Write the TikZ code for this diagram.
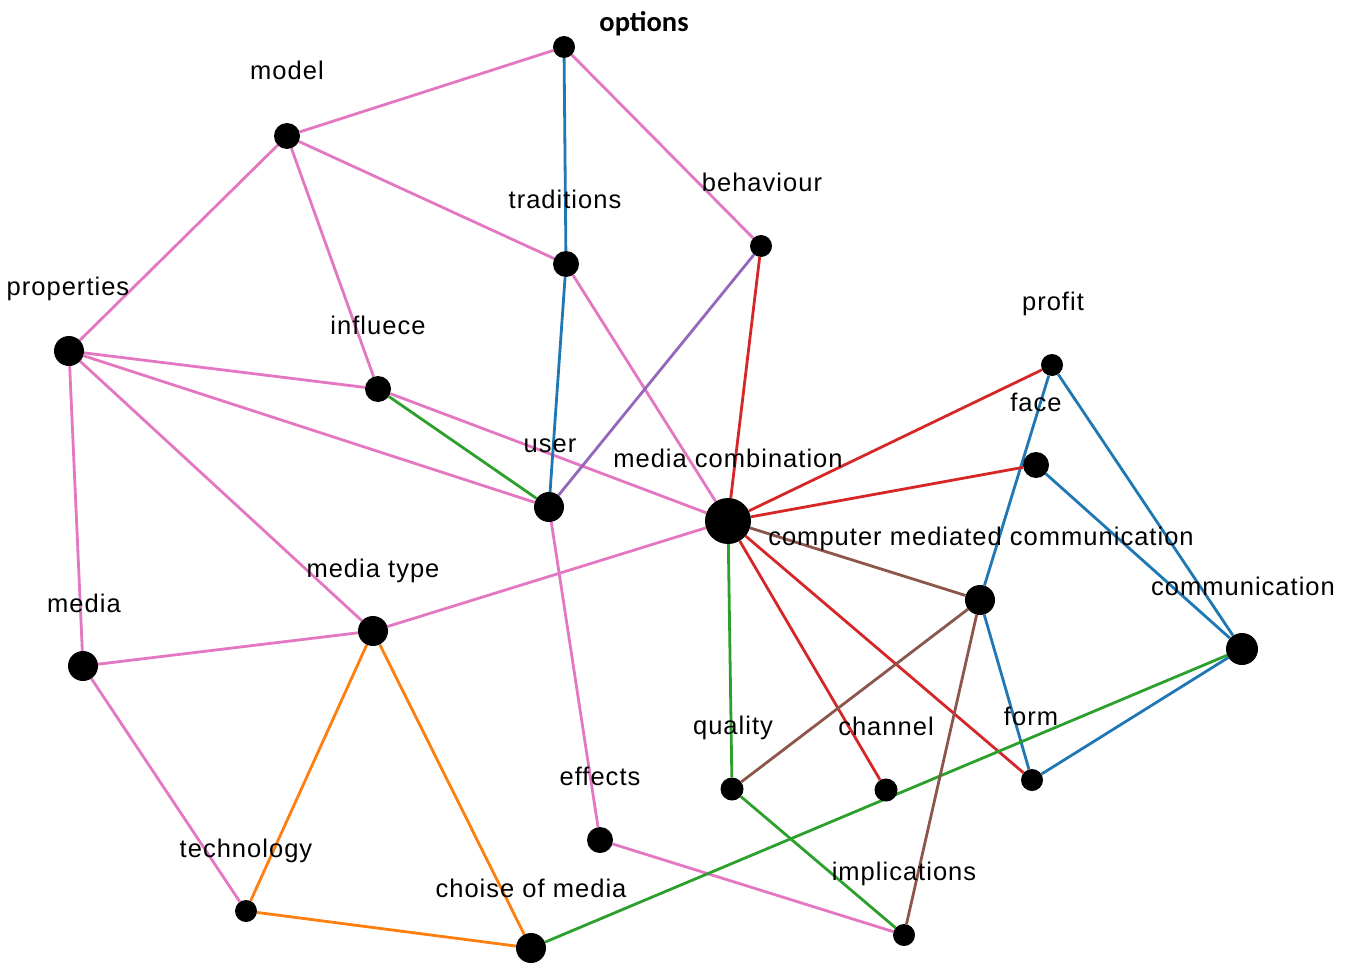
\documentclass[tikz,border=0pt]{standalone}
\usepackage{fontspec}
\setmainfont{Liberation Sans}[LetterSpace=4.0]
\newfontfamily\optfont{Carlito}
\usetikzlibrary{backgrounds}
\definecolor{cpink}{HTML}{E377C2}
\definecolor{cblue}{HTML}{1F77B4}
\definecolor{cred}{HTML}{D62728}
\definecolor{cgreen}{HTML}{2CA02C}
\definecolor{cpurple}{HTML}{9467BD}
\definecolor{cbrown}{HTML}{8C564B}
\definecolor{corange}{HTML}{FF7F0E}
\tikzset{
  dot/.style={circle,fill=black,inner sep=0pt,minimum size=#1},
  lab/.style={anchor=base,inner sep=0pt,font=\fontsize{25.5}{30}\selectfont},
  edge/.style={line width=2.8pt,#1},
}
\begin{document}
\begin{tikzpicture}[x=1pt,y=-1pt]
\useasboundingbox (0,0) rectangle (1349,963);
% dots
\node[dot=22] (opt) at (564,47) {};
\node[dot=26] (mod) at (287,136) {};
\node[dot=26] (tra) at (566,264) {};
\node[dot=22] (beh) at (761,246) {};
\node[dot=30] (pro) at (69,351) {};
\node[dot=26] (inf) at (378,389) {};
\node[dot=22] (prf) at (1052,365) {};
\node[dot=26] (fac) at (1036,465) {};
\node[dot=30] (usr) at (549,507) {};
\node[dot=46] (mc) at (728,521) {};
\node[dot=30] (cmc) at (980,600) {};
\node[dot=32] (com) at (1242,649) {};
\node[dot=30] (mt) at (373,631) {};
\node[dot=30] (med) at (83,666) {};
\node[dot=23] (qua) at (732,789) {};
\node[dot=23] (cha) at (886,790) {};
\node[dot=22] (frm) at (1032,780) {};
\node[dot=26] (eff) at (600,840) {};
\node[dot=22] (tec) at (246,911) {};
\node[dot=30] (cho) at (531,948) {};
\node[dot=22] (imp) at (904,935) {};
% labels
\node[lab,font=\optfont\bfseries\fontsize{28.5}{30}\selectfont] (optL) at (644,32) {options};
\node[lab] (modL) at (287,80) {model};
\node[lab] (traL) at (565,208) {traditions};
\node[lab] (behL) at (762,191) {behaviour};
\node[lab] (proL) at (68,295) {properties};
\node[lab] (infL) at (378,334) {influece};
\node[lab] (prfL) at (1053,310) {profit};
\node[lab] (facL) at (1036,411) {face};
\node[lab] (usrL) at (550,452) {user};
\node[lab] (mcL) at (728,467) {media combination};
\node[lab] (cmcL) at (981,545) {computer mediated communication};
\node[lab] (comL) at (1243,595) {communication};
\node[lab] (mtL) at (373,577) {media type};
\node[lab] (medL) at (84,612) {media};
\node[lab] (quaL) at (733,734) {quality};
\node[lab] (chaL) at (886,735) {channel};
\node[lab] (frmL) at (1031,725) {form};
\node[lab] (effL) at (600,785) {effects};
\node[lab] (tecL) at (246,857) {technology};
\node[lab] (choL) at (531,897) {choise of media};
\node[lab] (impL) at (904,880) {implications};
\begin{pgfonlayer}{background}
% pink
\draw[edge=cpink] (opt) -- (mod);
\draw[edge=cpink] (opt) -- (beh);
\draw[edge=cpink] (mod) -- (tra);
\draw[edge=cpink] (mod) -- (inf);
\draw[edge=cpink] (mod) -- (pro);
\draw[edge=cpink] (pro) -- (inf);
\draw[edge=cpink] (pro) -- (usr);
\draw[edge=cpink] (pro) -- (mt);
\draw[edge=cpink] (pro) -- (med);
\draw[edge=cpink] (inf) -- (mc);
\draw[edge=cpink] (tra) -- (mc);
\draw[edge=cpink] (mt) -- (mc);
\draw[edge=cpink] (med) -- (mt);
\draw[edge=cpink] (med) -- (tec);
\draw[edge=cpink] (usr) -- (eff);
\draw[edge=cpink] (eff) -- (imp);
% blue
\draw[edge=cblue] (opt) -- (tra);
\draw[edge=cblue] (tra) -- (usr);
\draw[edge=cblue] (prf) -- (cmc);
\draw[edge=cblue] (prf) -- (com);
\draw[edge=cblue] (fac) -- (com);
\draw[edge=cblue] (cmc) -- (frm);
\draw[edge=cblue] (frm) -- (com);
% red
\draw[edge=cred] (beh) -- (mc);
\draw[edge=cred] (mc) -- (prf);
\draw[edge=cred] (mc) -- (fac);
\draw[edge=cred] (mc) -- (cha);
\draw[edge=cred] (mc) -- (frm);
% purple
\draw[edge=cpurple] (beh) -- (usr);
% green
\draw[edge=cgreen] (inf) -- (usr);
\draw[edge=cgreen] (mc) -- (qua);
\draw[edge=cgreen] (qua) -- (imp);
\draw[edge=cgreen] (com) -- (cho);
% brown
\draw[edge=cbrown] (mc) -- (cmc);
\draw[edge=cbrown] (cmc) -- (qua);
\draw[edge=cbrown] (cmc) -- (imp);
% orange
\draw[edge=corange] (mt) -- (tec);
\draw[edge=corange] (mt) -- (cho);
\draw[edge=corange] (tec) -- (cho);
\end{pgfonlayer}
\end{tikzpicture}
\end{document}
